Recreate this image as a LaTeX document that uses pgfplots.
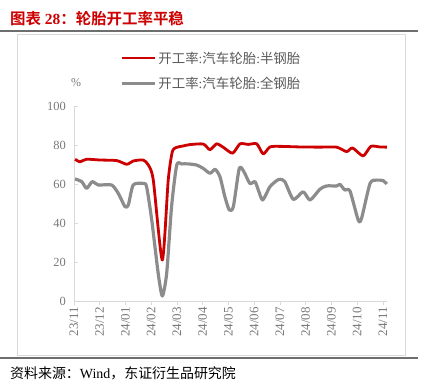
\documentclass[border=0pt]{standalone}
\usepackage{fontspec}
\setmainfont{Liberation Serif}
\newfontfamily\cjk{Noto Sans CJK SC}[BoldFont={Noto Sans CJK SC Bold}]
\usepackage{pgfplots}
\pgfplotsset{compat=1.18}
\definecolor{myred}{RGB}{204,0,0}
\definecolor{mygray}{RGB}{140,140,140}
\definecolor{axgray}{RGB}{217,217,217}
\definecolor{txtgray}{RGB}{120,120,120}
\definecolor{leggray}{RGB}{89,89,89}
\definecolor{linegray}{RGB}{110,110,110}
\begin{document}
\begin{tikzpicture}[x=1bp,y=1bp]
\path[use as bounding box] (0,0) rectangle (428,391);
% title
\node[anchor=west, inner sep=0pt, text=myred, font=\fontsize{15.5}{17}\selectfont\bfseries] at (10,372) {{\cjk 图表}~28{\cjk ：轮胎开工率平稳}};
\draw[linegray, line width=1.3bp] (0,360) -- (418,360);
\draw[axgray, line width=0.8bp] (17,357) rectangle (405,36);
\draw[linegray, line width=1.3bp] (0,33) -- (418,33);
\node[anchor=west, inner sep=0pt, font=\fontsize{14}{16}\selectfont] at (10,18) {{\cjk 资料来源：}Wind{\cjk ，东证衍生品研究院}};
\node[text=txtgray, font=\fontsize{12}{14}\selectfont] at (76,308) {\%};
\begin{axis}[
  at={(74bp,90bp)}, anchor=south west,
  scale only axis, width=313.3bp, height=195bp,
  xmin=0, xmax=12.17, ymin=0, ymax=100,
  axis lines=left,
  axis line style={-, draw=axgray, line width=1bp},
  clip=false,
  xtick={0,1,2,3,4,5,6,7,8,9,10,11,12},
  xticklabels={23/11,23/12,24/01,24/02,24/03,24/04,24/05,24/06,24/07,24/08,24/09,24/10,24/11},
  ytick={0,20,40,60,80,100},
  /pgf/number format/assume math mode=true,
  tick style={draw=axgray, line width=0.8bp},
  major tick length=4bp,
  xtick align=outside,
  ytick align=inside,
  xticklabel style={rotate=90, anchor=east, inner sep=2bp, text=txtgray, font=\fontsize{13}{14}\selectfont},
  yticklabel style={text=txtgray, font=\fontsize{12.5}{14}\selectfont, inner sep=2bp, xshift=-6bp},
  legend style={at={(0.1468,1.29)}, anchor=north west, draw=none, fill=none,
    inner xsep=0pt, inner ysep=0pt, row sep=8.5bp,
    font=\fontsize{13.5}{15}\selectfont, text=leggray, cells={anchor=west}},
  legend image code/.code={\draw[#1] (0bp,0bp) -- (33bp,0bp);},
]
\addplot[myred, line width=2.8bp, smooth, tension=0.4, line join=round] coordinates {
(0.04,72.7)(0.23,71.4)(0.49,72.7)(1.01,72.3)(1.66,72)(2.05,70.1)(2.30,71.8)(2.69,72.3)(2.89,69.7)(3.08,62)(3.43,21)(3.66,62)(3.82,76.6)(3.99,78.8)(4.24,79.5)(4.50,80.2)(5.02,80.5)(5.28,77.6)(5.54,80.6)(5.80,78.8)(6.16,75.8)(6.45,80.6)(6.77,80.3)(7.10,80.6)(7.35,75.4)(7.61,79)(8.00,79.3)(8.78,79)(9.55,78.9)(10.20,78.9)(10.59,76.6)(10.82,78.5)(11.23,74.4)(11.53,79.3)(11.88,79)(12.15,78.9)
};
\addlegendentry{{\cjk 开工率}:{\cjk 汽车轮胎}:{\cjk 半钢胎}}
\addplot[mygray, line width=3.2bp, smooth, tension=0.4, line join=round] coordinates {
(0.04,62.6)(0.30,61.2)(0.49,57.8)(0.71,61.2)(0.94,59.5)(1.46,59.5)(1.72,55.2)(1.98,48.4)(2.11,49.2)(2.30,59.5)(2.69,60.3)(2.82,58.6)(3.02,41.5)(3.27,14.2)(3.43,2.6)(3.60,14.2)(3.79,48.4)(3.99,69.7)(4.18,70.3)(4.44,70.3)(4.77,69.7)(5.02,68)(5.28,65.5)(5.48,67.5)(5.67,63.7)(5.86,53.5)(6.03,46.7)(6.19,48.4)(6.42,68)(6.60,66.3)(6.83,60.3)(7.03,61.2)(7.16,56.9)(7.33,51.8)(7.61,58.6)(7.87,61.7)(8.00,62.4)(8.19,61.2)(8.52,52.1)(8.90,56)(9.17,51.8)(9.55,57.3)(9.81,59)(10.20,59)(10.33,59.8)(10.52,56.9)(10.72,56.4)(11.04,41.5)(11.17,42.4)(11.50,60.3)(11.76,62)(12.01,61.7)(12.15,60)
};
\addlegendentry{{\cjk 开工率}:{\cjk 汽车轮胎}:{\cjk 全钢胎}}
\end{axis}
\end{tikzpicture}
\end{document}
